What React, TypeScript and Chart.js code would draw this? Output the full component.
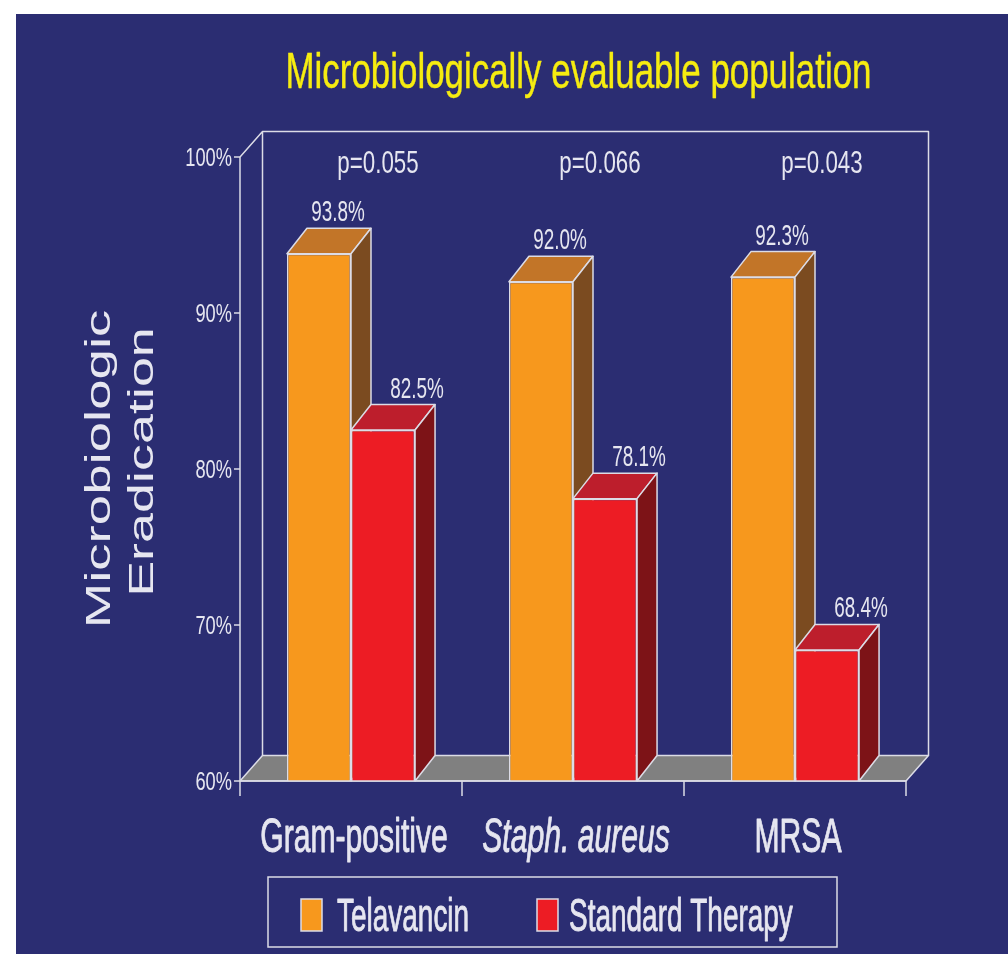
import { useEffect, useRef } from "react";
import { Chart, registerables } from "chart.js";

Chart.register(...registerables);

// ---- data ----
const categories = ["Gram-positive", "Staph. aureus", "MRSA"];
const categoryItalic = [false, true, false];
const seriesNames = ["Telavancin", "Standard Therapy"];
const telavancin = [93.8, 92.0, 92.3];
const standardTherapy = [82.5, 78.1, 68.4];
const pValues = ["p=0.055", "p=0.066", "p=0.043"];
const yTicks = [60, 70, 80, 90, 100];
const titleText = "Microbiologically evaluable population";
const axisTitleLines = ["Microbiologic", "Eradication"];

// ---- style ----
const BG = "#2B2D72";
const LINE = "#DCDCE6";
const TEXT = "#E6E6F0";
const TITLE = "#F6EC10";
const FLOOR = "#808080";
const FRONT = ["#F7981D", "#ED1C24"];
const TOP = ["#C27528", "#BD1E2C"];
const SIDE = ["#7B4B20", "#7D1317"];
const DEPTH = { dx: 20, dy: -25.5 };
const WALL = { dx: 22.5, dy: -25.5 };
const FONT = "'Liberation Sans', Arial, sans-serif";

// condensed text: drawn with a horizontal squeeze, optional outline for extra weight
function drawText(
  ctx: CanvasRenderingContext2D,
  text: string,
  x: number,
  y: number,
  size: number,
  color: string,
  sx: number,
  align: CanvasTextAlign,
  italic = false,
  weight = 0
) {
  ctx.save();
  ctx.font = `${italic ? "italic " : ""}${size}px ${FONT}`;
  ctx.fillStyle = color;
  ctx.textAlign = align;
  ctx.textBaseline = "alphabetic";
  ctx.translate(x, y);
  ctx.scale(sx, 1);
  ctx.fillText(text, 0, 0);
  if (weight > 0) {
    ctx.strokeStyle = color;
    ctx.lineWidth = weight;
    ctx.lineJoin = "round";
    ctx.strokeText(text, 0, 0);
  }
  ctx.restore();
}

function poly(ctx: CanvasRenderingContext2D, pts: number[][], fill: string | null, stroke: string | null) {
  ctx.beginPath();
  ctx.moveTo(pts[0][0], pts[0][1]);
  for (let i = 1; i < pts.length; i++) ctx.lineTo(pts[i][0], pts[i][1]);
  ctx.closePath();
  if (fill) {
    ctx.fillStyle = fill;
    ctx.fill();
  }
  if (stroke) {
    ctx.strokeStyle = stroke;
    ctx.lineWidth = 1.5;
    ctx.lineJoin = "round";
    ctx.stroke();
  }
}

const scene3d = {
  id: "scene3d",
  beforeDatasetsDraw(chart: any) {
    const { ctx, chartArea: a, scales } = chart;
    const ys = scales.y;
    const xs = scales.x;
    const base = ys.getPixelForValue(ys.min);
    const top = ys.getPixelForValue(ys.max);
    ctx.save();

    // floor
    poly(
      ctx,
      [
        [a.left, base],
        [a.right, base],
        [a.right + WALL.dx, base + WALL.dy],
        [a.left + WALL.dx, base + WALL.dy],
      ],
      FLOOR,
      LINE
    );

    // back wall outline and left wall top edge
    ctx.strokeStyle = LINE;
    ctx.lineWidth = 1.5;
    ctx.beginPath();
    ctx.moveTo(a.left + WALL.dx, base + WALL.dy);
    ctx.lineTo(a.left + WALL.dx, top + WALL.dy);
    ctx.lineTo(a.right + WALL.dx, top + WALL.dy);
    ctx.lineTo(a.right + WALL.dx, base + WALL.dy);
    ctx.moveTo(a.left, top);
    ctx.lineTo(a.left + WALL.dx, top + WALL.dy);
    ctx.stroke();

    // front value axis, category dividers
    const half = (xs.getPixelForValue(1) - xs.getPixelForValue(0)) / 2;
    ctx.beginPath();
    ctx.moveTo(a.left, top);
    ctx.lineTo(a.left, base + 15);
    for (let i = 0; i < categories.length; i++) {
      const bx = xs.getPixelForValue(i) + half;
      ctx.moveTo(bx, base);
      ctx.lineTo(bx, base + 15);
    }
    // value ticks
    yTicks.forEach((v) => {
      const py = ys.getPixelForValue(v);
      ctx.moveTo(a.left - 6, py);
      ctx.lineTo(a.left, py);
    });
    ctx.stroke();

    yTicks.forEach((v) => {
      const py = ys.getPixelForValue(v);
      drawText(ctx, `${v}%`, a.left - 8, py + 9, 25, TEXT, 0.73, "right");
    });

    // top and side faces of each bar, standing on the floor
    for (let d = 0; d < 2; d++) {
      const meta = chart.getDatasetMeta(d);
      meta.data.forEach((el: any) => {
        const { x, y, width } = el.getProps(["x", "y", "width"], true);
        const L = x - width / 2;
        const R = x + width / 2;
        poly(
          ctx,
          [
            [L, y],
            [R, y],
            [R + DEPTH.dx, y + DEPTH.dy],
            [L + DEPTH.dx, y + DEPTH.dy],
          ],
          TOP[d],
          LINE
        );
        poly(
          ctx,
          [
            [R, y],
            [R + DEPTH.dx, y + DEPTH.dy],
            [R + DEPTH.dx, base + DEPTH.dy],
            [R, base],
          ],
          SIDE[d],
          LINE
        );
      });
    }
    ctx.restore();
  },
  afterDatasetsDraw(chart: any) {
    const { ctx, chartArea: a, scales } = chart;
    const xs = scales.x;
    const ys = scales.y;
    const base = ys.getPixelForValue(ys.min);
    const values = [telavancin, standardTherapy];
    const labelShift = [19, 34];

    // front baseline over the bar feet
    ctx.save();
    ctx.strokeStyle = LINE;
    ctx.lineWidth = 1.5;
    ctx.beginPath();
    ctx.moveTo(a.left, base);
    ctx.lineTo(a.right, base);
    ctx.stroke();
    ctx.restore();

    // value labels above each bar
    for (let d = 0; d < 2; d++) {
      const meta = chart.getDatasetMeta(d);
      meta.data.forEach((el: any, i: number) => {
        const { x, y } = el.getProps(["x", "y"], true);
        drawText(ctx, `${values[d][i].toFixed(1)}%`, x + labelShift[d], y + DEPTH.dy - 7, 30, TEXT, 0.63, "center");
      });
    }

    // p-values and category labels
    categories.forEach((c, i) => {
      const cx = xs.getPixelForValue(i);
      drawText(ctx, pValues[i], cx + 27, 159, 31, TEXT, 0.72, "center");
      drawText(ctx, c, cx + 3, 838, 49, TEXT, 0.615, "center", categoryItalic[i], 0.9);
    });

    // title
    drawText(ctx, titleText, 562.5, 74, 50, TITLE, 0.698, "center", false, 0.4);

    // vertical axis title
    const axisBase = [94, 137];
    const axisMid = [455, 448];
    const axisStretch = [1.56, 1.54];
    axisTitleLines.forEach((t, i) => {
      ctx.save();
      ctx.translate(axisBase[i], axisMid[i]);
      ctx.rotate(-Math.PI / 2);
      ctx.scale(axisStretch[i], 1);
      ctx.font = `35px ${FONT}`;
      ctx.fillStyle = TEXT;
      ctx.textAlign = "center";
      ctx.textBaseline = "alphabetic";
      ctx.fillText(t, 0, 0);
      ctx.restore();
    });

    // legend
    ctx.save();
    ctx.strokeStyle = LINE;
    ctx.lineWidth = 1.5;
    ctx.strokeRect(252, 863, 569, 70);
    const swatchX = [285, 521];
    const textX = [321, 553];
    seriesNames.forEach((n, i) => {
      ctx.fillStyle = FRONT[i];
      ctx.fillRect(swatchX[i], 885, 21, 32);
      ctx.strokeStyle = LINE;
      ctx.lineWidth = 1.5;
      ctx.strokeRect(swatchX[i], 885, 21, 32);
      drawText(ctx, n, textX[i], 917, 47, TEXT, 0.595, "left", false, 0.9);
    });
    ctx.restore();
  },
};

export default function App() {
  const ref = useRef<HTMLCanvasElement>(null);

  useEffect(() => {
    const chart = new Chart(ref.current as HTMLCanvasElement, {
      type: "bar",
      data: {
        labels: categories,
        datasets: [
          {
            label: seriesNames[0],
            data: telavancin,
            backgroundColor: FRONT[0],
            borderColor: LINE,
            borderWidth: 1.5,
            borderSkipped: false,
          },
          {
            label: seriesNames[1],
            data: standardTherapy,
            backgroundColor: FRONT[1],
            borderColor: LINE,
            borderWidth: 1.5,
            borderSkipped: false,
          },
        ],
      },
      options: {
        responsive: false,
        animation: false,
        layout: { padding: { left: 224, right: 102, top: 143, bottom: 173 } },
        datasets: { bar: { categoryPercentage: 0.577, barPercentage: 1 } },
        scales: {
          x: { display: false },
          y: { display: false, min: 60, max: 100 },
        },
        plugins: {
          legend: { display: false },
          tooltip: { enabled: false },
          title: { display: false },
        },
      },
      plugins: [scene3d],
    });
    return () => chart.destroy();
  }, []);

  return (
    <div
      style={{
        position: "absolute",
        left: 16,
        top: 14,
        width: 992,
        height: 940,
        background: BG,
      }}
    >
      <canvas ref={ref} width={992} height={940} style={{ display: "block" }} />
    </div>
  );
}
